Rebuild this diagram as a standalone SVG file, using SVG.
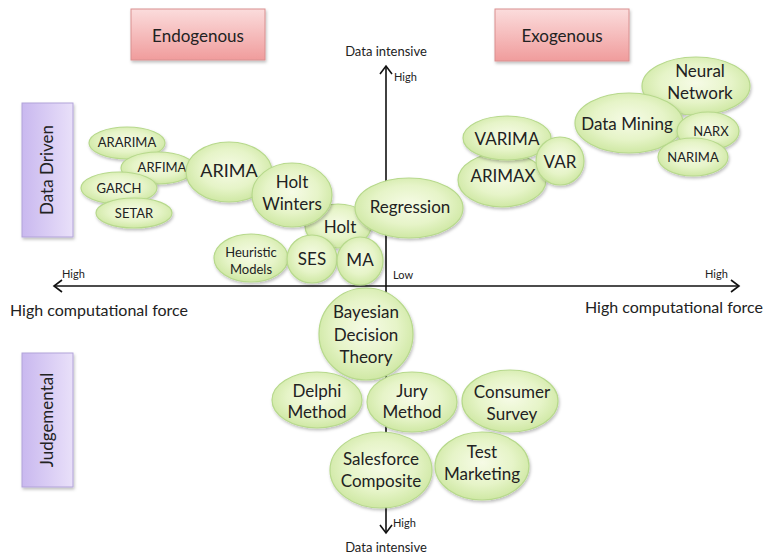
<svg xmlns="http://www.w3.org/2000/svg" width="765" height="558" viewBox="0 0 765 558">
<defs>
<radialGradient id="gr" cx="50%" cy="45%" r="55%">
<stop offset="0" stop-color="#f6fbe6"/>
<stop offset="0.6" stop-color="#e6f4c8"/>
<stop offset="1" stop-color="#cfe8a4"/>
</radialGradient>
<linearGradient id="pink" x1="0" y1="0" x2="0" y2="1">
<stop offset="0" stop-color="#fbdcdc"/>
<stop offset="1" stop-color="#f09c9c"/>
</linearGradient>
<linearGradient id="purp" x1="0" y1="0" x2="1" y2="0">
<stop offset="0" stop-color="#c9b8ef"/>
<stop offset="1" stop-color="#e9e0f9"/>
</linearGradient>
<filter id="sh" x="-20%" y="-20%" width="140%" height="140%">
<feDropShadow dx="1" dy="2" stdDeviation="1.5" flood-color="#000" flood-opacity="0.25"/>
</filter>
</defs>
<style>
text{font-family:Lato,"Liberation Sans",sans-serif;fill:#222;text-anchor:middle}
.n ellipse{fill:url(#gr);stroke:#b7d98c;stroke-width:1.2;filter:url(#sh)}
.b{font-size:17px}
.s{font-size:13px}
.t{font-size:11px;text-anchor:start}
.ax{stroke:#111;stroke-width:1.6;fill:none}
.box-p{fill:url(#pink);stroke:#d99090;stroke-width:1;filter:url(#sh)}
.box-v{fill:url(#purp);stroke:#b2a3d9;stroke-width:1;filter:url(#sh)}
</style>
<rect width="765" height="558" fill="#fff"/>

<g id="endogenous"><rect class="box-p" x="131" y="9" width="134" height="51"/><text class="b" x="198" y="42">Endogenous</text></g>
<g id="exogenous"><rect class="box-p" x="495" y="9" width="134" height="52"/><text class="b" x="562" y="42">Exogenous</text></g>
<g id="data-driven"><rect class="box-v" x="22" y="103" width="51" height="134"/><text class="b" transform="translate(53 170) rotate(-90)">Data Driven</text></g>
<g id="judgemental"><rect class="box-v" x="22" y="353" width="51" height="134"/><text class="b" transform="translate(53 420) rotate(-90)">Judgemental</text></g>

<g id="connectors">
<line class="ax" x1="386" y1="66" x2="386" y2="533"/>
<polyline class="ax" points="380,74 386,66 392,74"/>
<polyline class="ax" points="380,525 386,533 392,525"/>
<line class="ax" x1="54" y1="286" x2="739" y2="286"/>
<polyline class="ax" points="62,280 54,286 62,292"/>
<polyline class="ax" points="731,280 739,286 731,292"/>
</g>

<g id="axis-labels">
<text class="s" x="386" y="56">Data intensive</text>
<text class="s" x="386" y="552">Data intensive</text>
<text style="font-size:16px" x="99" y="316">High computational force</text>
<text style="font-size:16px" x="674" y="313">High computational force</text>
<text class="t" x="394" y="81">High</text>
<text class="t" x="393" y="527">High</text>
<text class="t" x="393" y="279">Low</text>
<text class="t" x="62" y="278">High</text>
<text class="t" x="705" y="278">High</text>
</g>

<g id="ararima" class="n"><ellipse cx="127" cy="143" rx="38" ry="16"/><text class="s" x="127" y="147">ARARIMA</text></g>
<g id="arfima" class="n"><ellipse cx="158" cy="168" rx="37" ry="16"/><text class="s" x="162" y="172">ARFIMA</text></g>
<g id="garch" class="n"><ellipse cx="119" cy="188" rx="38" ry="16"/><text class="s" x="119" y="193">GARCH</text></g>
<g id="setar" class="n"><ellipse cx="134" cy="213" rx="38" ry="15"/><text class="s" x="134" y="218">SETAR</text></g>
<g id="arima" class="n"><ellipse cx="229" cy="172" rx="43" ry="30"/><text class="b" style="font-size:18px" x="229" y="177">ARIMA</text></g>
<g id="holt" class="n"><ellipse cx="338" cy="226" rx="33" ry="22"/><text class="b" x="340" y="233">Holt</text></g>
<g id="holt-winters" class="n"><ellipse cx="292" cy="195" rx="40" ry="32"/><text class="b" x="292" y="188">Holt</text><text class="b" x="292" y="210">Winters</text></g>
<g id="regression" class="n"><ellipse cx="409" cy="208" rx="54" ry="30"/><text class="b" x="410" y="213">Regression</text></g>
<g id="heuristic-models" class="n"><ellipse cx="251" cy="258" rx="37" ry="24"/><text class="s" x="251" y="257">Heuristic</text><text class="s" x="251" y="274">Models</text></g>
<g id="ses" class="n"><ellipse cx="312" cy="259" rx="25" ry="24"/><text class="b" x="312" y="265">SES</text></g>
<g id="ma" class="n"><ellipse cx="360" cy="261" rx="23" ry="24"/><text class="b" x="360" y="266">MA</text></g>

<g id="arimax" class="n"><ellipse cx="502" cy="180" rx="44" ry="27"/><text class="b" x="503" y="182">ARIMAX</text></g>
<g id="varima" class="n"><ellipse cx="507" cy="138" rx="44" ry="22"/><text class="b" x="507" y="145">VARIMA</text></g>
<g id="var" class="n"><ellipse cx="560" cy="161" rx="24" ry="24"/><text class="b" x="560" y="168">VAR</text></g>
<g id="neural-network" class="n"><ellipse cx="696" cy="86" rx="54" ry="29"/><text class="b" x="700" y="77">Neural</text><text class="b" x="700" y="99">Network</text></g>
<g id="data-mining" class="n"><ellipse cx="629" cy="123" rx="54" ry="30"/><text class="b" x="627" y="130">Data Mining</text></g>
<g id="narx" class="n"><ellipse cx="708" cy="131" rx="31" ry="19"/><text class="s" x="711" y="136">NARX</text></g>
<g id="narima" class="n"><ellipse cx="693" cy="157" rx="35" ry="19"/><text class="s" x="693" y="162">NARIMA</text></g>

<g id="bayesian-decision-theory" class="n"><ellipse cx="366" cy="334" rx="47" ry="46"/><text class="b" x="366" y="318">Bayesian</text><text class="b" x="366" y="341">Decision</text><text class="b" x="366" y="363">Theory</text></g>
<g id="delphi-method" class="n"><ellipse cx="317" cy="400" rx="45" ry="28"/><text class="b" x="317" y="397">Delphi</text><text class="b" x="317" y="418">Method</text></g>
<g id="jury-method" class="n"><ellipse cx="412" cy="402" rx="45" ry="30"/><text class="b" x="412" y="397">Jury</text><text class="b" x="412" y="418">Method</text></g>
<g id="consumer-survey" class="n"><ellipse cx="510" cy="401" rx="48" ry="31"/><text class="b" x="512" y="398">Consumer</text><text class="b" x="512" y="420">Survey</text></g>
<g id="salesforce-composite" class="n"><ellipse cx="381" cy="470" rx="51" ry="38"/><text class="b" x="381" y="465">Salesforce</text><text class="b" x="381" y="487">Composite</text></g>
<g id="test-marketing" class="n"><ellipse cx="482" cy="466" rx="47" ry="34"/><text class="b" x="482" y="458">Test</text><text class="b" x="482" y="480">Marketing</text></g>
</svg>
